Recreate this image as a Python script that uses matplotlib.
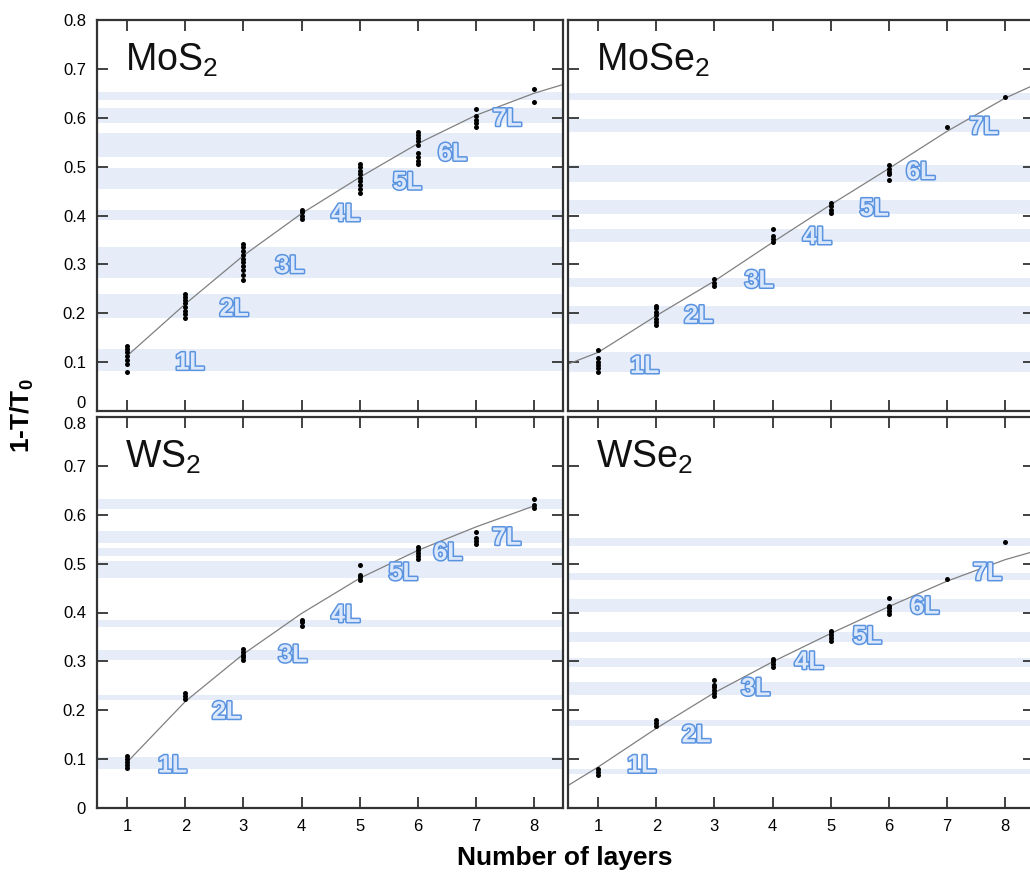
import matplotlib

matplotlib.use("Agg")
import matplotlib.pyplot as plt
import matplotlib.patheffects as pe

plt.rcParams["font.family"] = ["Liberation Sans", "DejaVu Sans"]

layers = [1, 2, 3, 4, 5, 6, 7, 8]
layer_labels = ["1L", "2L", "3L", "4L", "5L", "6L", "7L"]

mos2_pts = [
    [0.08, 0.097, 0.105, 0.113, 0.12, 0.127, 0.133],
    [0.19, 0.198, 0.205, 0.212, 0.22, 0.227, 0.234, 0.24],
    [0.268, 0.278, 0.288, 0.296, 0.304, 0.312, 0.32, 0.328, 0.335, 0.341],
    [0.393, 0.40, 0.407, 0.412],
    [0.447, 0.455, 0.463, 0.47, 0.477, 0.485, 0.492, 0.499, 0.505],
    [0.505, 0.512, 0.52, 0.528, 0.545, 0.552, 0.559, 0.565, 0.57],
    [0.582, 0.589, 0.596, 0.603, 0.617],
    [0.633, 0.658],
]
mose2_pts = [
    [0.08, 0.087, 0.094, 0.101, 0.108, 0.125],
    [0.175, 0.182, 0.189, 0.196, 0.203, 0.21, 0.215],
    [0.255, 0.262, 0.27],
    [0.345, 0.352, 0.359, 0.372],
    [0.405, 0.412, 0.419, 0.425],
    [0.472, 0.484, 0.49, 0.496, 0.503],
    [0.581],
    [0.643],
]
ws2_pts = [
    [0.082, 0.088, 0.094, 0.1, 0.106],
    [0.222, 0.229, 0.235],
    [0.302, 0.308, 0.314, 0.32, 0.325],
    [0.373, 0.38, 0.384],
    [0.466, 0.473, 0.477, 0.498],
    [0.51, 0.516, 0.522, 0.528, 0.534],
    [0.54, 0.546, 0.552, 0.565],
    [0.614, 0.62, 0.633],
]
wse2_pts = [
    [0.068, 0.074, 0.08],
    [0.168, 0.174, 0.181],
    [0.23, 0.236, 0.242, 0.248, 0.252, 0.262],
    [0.288, 0.294, 0.3, 0.305],
    [0.342, 0.348, 0.354, 0.36, 0.363],
    [0.397, 0.403, 0.409, 0.413, 0.43],
    [0.469],
    [0.544],
]

# fitted curves
mos2_fit_x = [1, 2, 3, 4, 5, 6, 7, 8, 8.5]
mos2_fit_y = [0.113, 0.219, 0.318, 0.404, 0.478, 0.547, 0.605, 0.650, 0.668]
mose2_fit_x = [0.48, 1, 2, 3, 4, 5, 6, 7, 8, 8.5]
mose2_fit_y = [0.096, 0.12, 0.195, 0.266, 0.345, 0.422, 0.496, 0.572, 0.64, 0.667]
ws2_fit_x = [1, 2, 3, 4, 5, 6, 7, 8]
ws2_fit_y = [0.094, 0.218, 0.315, 0.398, 0.470, 0.527, 0.575, 0.618]
wse2_fit_x = [0.48, 1, 2, 3, 4, 5, 6, 7, 8, 8.5]
wse2_fit_y = [0.046, 0.084, 0.163, 0.236, 0.299, 0.357, 0.412, 0.464, 0.508, 0.525]

# shaded bands (low, high)
mos2_bands = [(0.636, 0.653), (0.59, 0.62), (0.519, 0.568), (0.455, 0.498), (0.391, 0.412),
              (0.273, 0.335), (0.191, 0.240), (0.082, 0.127)]
mose2_bands = [(0.636, 0.650), (0.571, 0.598), (0.468, 0.503), (0.403, 0.431), (0.345, 0.373),
               (0.253, 0.273), (0.178, 0.215), (0.079, 0.120)]
ws2_bands = [(0.612, 0.633), (0.542, 0.566), (0.515, 0.532), (0.471, 0.505), (0.371, 0.385),
             (0.303, 0.323), (0.221, 0.231), (0.080, 0.104)]
wse2_bands = [(0.536, 0.553), (0.467, 0.481), (0.402, 0.428), (0.340, 0.361), (0.289, 0.306),
              (0.231, 0.258), (0.167, 0.181), (0.070, 0.080)]

# layer label positions
mos2_lab_x = [2.08, 2.84, 3.80, 4.76, 5.82, 6.60, 7.54]
mos2_lab_y = [0.099, 0.209, 0.297, 0.403, 0.468, 0.527, 0.598]
mose2_lab_x = [1.80, 2.73, 3.77, 4.77, 5.75, 6.55, 7.64]
mose2_lab_y = [0.092, 0.195, 0.267, 0.356, 0.414, 0.489, 0.581]
ws2_lab_x = [1.78, 2.71, 3.85, 4.76, 5.75, 6.52, 7.53]
ws2_lab_y = [0.087, 0.197, 0.313, 0.395, 0.481, 0.522, 0.553]
wse2_lab_x = [1.75, 2.69, 3.71, 4.63, 5.63, 6.62, 7.70]
wse2_lab_y = [0.087, 0.149, 0.245, 0.299, 0.351, 0.412, 0.481]

panels = [
    ("MoS$_\\mathregular{2}$", mos2_pts, mos2_fit_x, mos2_fit_y, mos2_bands, mos2_lab_x, mos2_lab_y),
    ("MoSe$_\\mathregular{2}$", mose2_pts, mose2_fit_x, mose2_fit_y, mose2_bands, mose2_lab_x, mose2_lab_y),
    ("WS$_\\mathregular{2}$", ws2_pts, ws2_fit_x, ws2_fit_y, ws2_bands, ws2_lab_x, ws2_lab_y),
    ("WSe$_\\mathregular{2}$", wse2_pts, wse2_fit_x, wse2_fit_y, wse2_bands, wse2_lab_x, wse2_lab_y),
]

W, H = 1030, 876
fig = plt.figure(figsize=(W / 100, H / 100), dpi=100)

# axes boxes in pixels: left, top, width, height
boxes = [(97, 20, 466, 391), (568, 20, 466, 391), (97, 417, 466, 391), (568, 417, 466, 391)]

yticks = [0, 0.1, 0.2, 0.3, 0.4, 0.5, 0.6, 0.7, 0.8]
ytick_labels = ["0", "0.1", "0.2", "0.3", "0.4", "0.5", "0.6", "0.7", "0.8"]

label_fx = [pe.Stroke(linewidth=2.2, foreground="#5a93e0"), pe.Normal()]

for i, (name, pts, fx, fy, bands, lx, ly) in enumerate(panels):
    l, t, w, h = boxes[i]
    ax = fig.add_axes([l / W, (H - t - h) / H, w / W, h / H])
    ax.set_xlim(0.48, 8.5)
    ax.set_ylim(0, 0.8)

    for lo, hi in bands:
        ax.axhspan(lo, hi, color="#e6edf9", lw=0, zorder=0)

    ax.plot(fx, fy, color="#808080", lw=0.9, zorder=2)

    for n, vals in zip(layers, pts):
        ax.plot([n] * len(vals), vals, "o", color="black", ms=3.6, mec="none", zorder=3)

    for txt, x, y in zip(layer_labels, lx, ly):
        ax.text(x, y, txt, fontsize=18, fontweight="bold", color="#dbe8fb",
                ha="center", va="center", path_effects=label_fx, zorder=4)

    ax.text(0.06, 0.87, name, transform=ax.transAxes, fontsize=27, color="#111111",
            ha="left", va="baseline")

    ax.set_xticks(layers)
    ax.set_yticks(yticks)
    ax.tick_params(direction="in", top=True, right=True, length=8, width=1.3,
                   color="#333333", labelsize=12, pad=8)
    if i % 2 == 0:
        ax.set_yticklabels(ytick_labels)
        ticks = ax.yaxis.get_major_ticks()
        # keep the "0" and "0.8" labels apart at the panel junction
        if i == 0:
            ticks[0].label1.set_va("bottom")
        else:
            ticks[-1].label1.set_va("top")
    else:
        ax.set_yticklabels([])
    if i >= 2:
        ax.set_xticklabels([str(n) for n in layers])
    else:
        ax.set_xticklabels([])
    for s in ax.spines.values():
        s.set_linewidth(1.6)
        s.set_color("#333333")

fig.text(0.022, 0.525, "1-T/T$_\\mathregular{0}$", rotation=90, fontsize=19,
         fontweight="bold", ha="center", va="center")
fig.text(0.548, 0.02, "Number of layers", fontsize=19, fontweight="bold",
         ha="center", va="center")

fig.savefig("out.png", dpi=100)
